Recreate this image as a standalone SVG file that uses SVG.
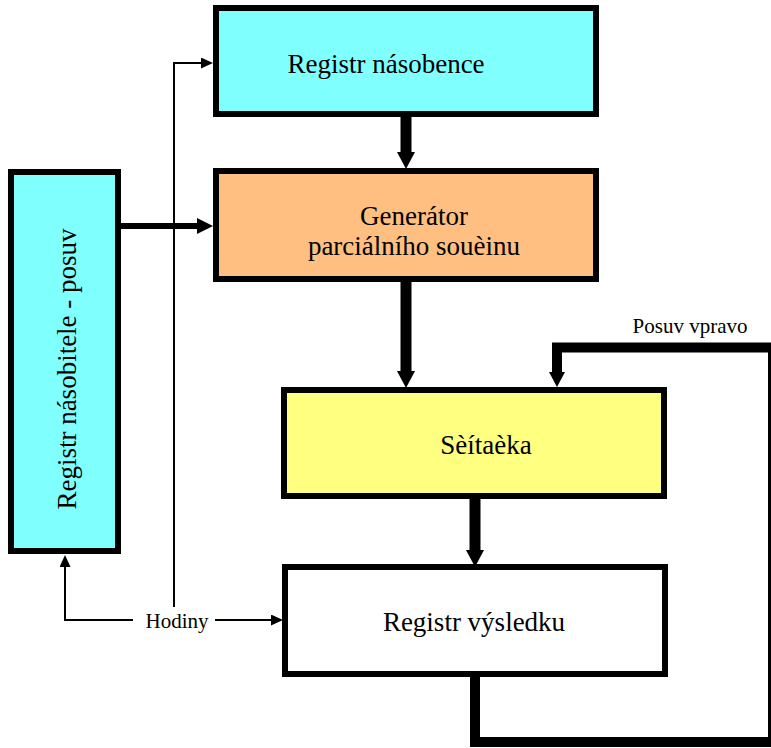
<svg xmlns="http://www.w3.org/2000/svg" width="771" height="748" viewBox="0 0 771 748">
<style>
.box{stroke:#000;stroke-width:6}
.t{font-family:"Liberation Serif","Times New Roman",serif;fill:#000;text-anchor:middle}
.big{font-size:27px}
.sm{font-size:21px}
.thin{stroke:#000;stroke-width:2;fill:none}
.thick{stroke:#000;fill:none}
</style>
<defs>
<marker id="hb" markerUnits="userSpaceOnUse" markerWidth="17" markerHeight="18" viewBox="0 0 17 18" refX="0" refY="9" orient="auto"><path d="M0,0 L17,9 L0,18 z" fill="#000"/></marker>
<marker id="hm" markerUnits="userSpaceOnUse" markerWidth="16" markerHeight="16" viewBox="0 0 16 16" refX="0" refY="8" orient="auto"><path d="M0,0 L16,8 L0,16 z" fill="#000"/></marker>
<marker id="hf" markerUnits="userSpaceOnUse" markerWidth="15" markerHeight="16" viewBox="0 0 15 16" refX="0" refY="8" orient="auto"><path d="M0,0 L15,8 L0,16 z" fill="#000"/></marker>
<marker id="ht" markerUnits="userSpaceOnUse" markerWidth="12" markerHeight="11" viewBox="0 0 12 11" refX="0" refY="5.5" orient="auto"><path d="M0,0 L12,5.5 L0,11 z" fill="#000"/></marker>
</defs>
<g id="n1">
<rect class="box" x="216" y="8" width="380" height="106" fill="#80FFFF"/>
<text class="t big" x="386" y="73">Registr násobence</text>
</g>
<g id="n2">
<rect class="box" x="216" y="171" width="380" height="108" fill="#FFBF80"/>
<text class="t big" x="414" y="225">Generátor</text>
<text class="t big" x="414" y="255">parciálního souèinu</text>
</g>
<g id="n3">
<rect class="box" x="11" y="172" width="107" height="379" fill="#80FFFF"/>
<text class="t big" transform="translate(76,369) rotate(-90)" x="0" y="0">Registr násobitele - posuv</text>
</g>
<g id="n4">
<rect class="box" x="284" y="390" width="380" height="106" fill="#FFFF80"/>
<text class="t big" x="486" y="454">Sèítaèka</text>
</g>
<g id="n5">
<rect class="box" x="285" y="567" width="380" height="107" fill="#FFFFFF"/>
<text class="t big" x="474" y="631">Registr výsledku</text>
</g>
<g id="connectors">
<line class="thick" x1="406" y1="117" x2="406" y2="152" stroke-width="11" marker-end="url(#hb)"/>
<line class="thick" x1="406" y1="282" x2="406" y2="371" stroke-width="11" marker-end="url(#hb)"/>
<line class="thick" x1="475" y1="499" x2="475" y2="550" stroke-width="11" marker-end="url(#hb)"/>
<polyline class="thick" points="475,677 475,742 773,742 773,347.5 557,347.5 557,372" stroke-width="10" stroke-linejoin="miter" marker-end="url(#hf)"/>
<line class="thick" x1="121" y1="226" x2="197" y2="226" stroke-width="6" marker-end="url(#hm)"/>
<polyline class="thin" points="133,620 65,620 65,567" marker-end="url(#ht)"/>
<line class="thin" x1="215" y1="620" x2="271" y2="620" marker-end="url(#ht)"/>
<polyline class="thin" points="174,607 174,63 201,63" marker-end="url(#ht)"/>
<text class="t sm" x="177" y="628">Hodiny</text>
<text class="t sm" x="690" y="333">Posuv vpravo</text>
</g>
</svg>
